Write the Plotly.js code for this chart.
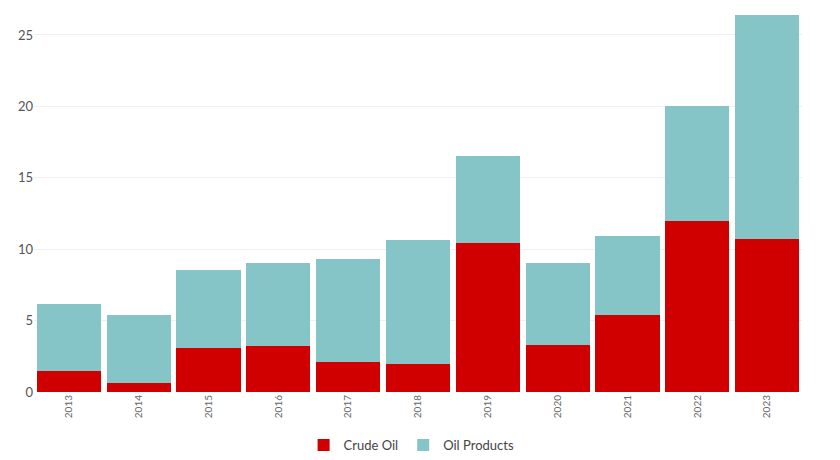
<!DOCTYPE html>
<html><head><meta charset="utf-8">
<script src="https://cdn.plot.ly/plotly-3.0.1.min.js"></script>
<style>body{margin:0;background:#fff}#c{width:840px;height:460px}</style>
</head><body><div id="c"></div>
<script>
const years = ['2013','2014','2015','2016','2017','2018','2019','2020','2021','2022','2023'];
const crudeOil = [1.47,0.63,3.08,3.22,2.10,1.96,10.43,3.29,5.39,11.97,10.71];
const oilProducts = [4.69,4.76,5.46,5.81,7.21,8.68,6.10,5.74,5.53,8.06,15.69];

const traces = [
  {type:'bar', name:'Crude Oil', x:years, y:crudeOil, marker:{color:'#d10000'}},
  {type:'bar', name:'Oil Products', x:years, y:oilProducts, marker:{color:'#85c5c8'}}
];
const layout = {
  width:840, height:460, barmode:'stack', bargap:0.08,
  margin:{l:34,r:38,t:0,b:68},
  paper_bgcolor:'#fff', plot_bgcolor:'#fff',
  font:{family:'Lato, sans-serif', color:'#555'},
  xaxis:{type:'category', tickangle:-90, tickfont:{size:10,color:'#666'}, showgrid:false, zeroline:false, ticks:'', automargin:false},
  yaxis:{range:[0,27.45], dtick:5, tickfont:{size:13,color:'#555'}, gridcolor:'#f0f0f0', zeroline:false, ticks:'', automargin:false},
  showlegend:true,
  legend:{orientation:'h', traceorder:'normal', x:0.49, xref:'container', xanchor:'center', y:-0.015, yref:'container', yanchor:'bottom', font:{size:13,color:'#444'}, itemwidth:30, tracegroupgap:0},
};
Plotly.newPlot('c', traces, layout, {displayModeBar:false});
</script></body></html>
